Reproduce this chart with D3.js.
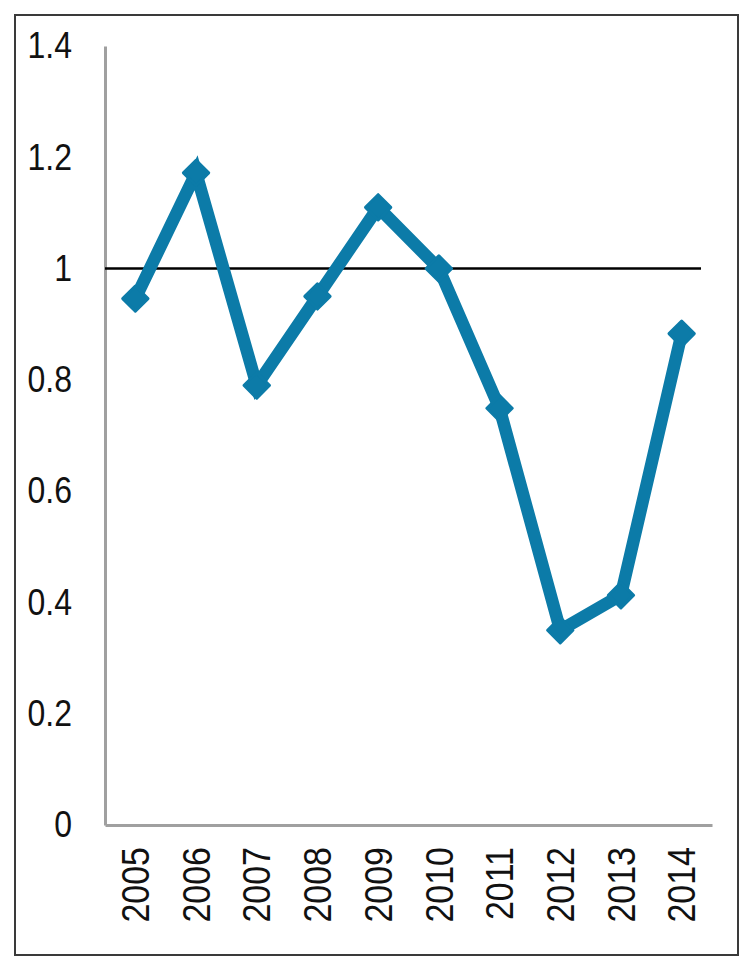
<!DOCTYPE html>
<html>
<head>
  <meta charset="utf-8">
  <title>Line chart 2005-2014</title>
  <script src="https://d3js.org/d3.v7.min.js"></script>
  <style>
    body { margin: 0; background: #fff; }
    svg { display: block; font-family: "Liberation Sans", Arial, sans-serif; }
  </style>
</head>
<body>
<div id="chart"></div>
<script>
  // data
  const years = ['2005', '2006', '2007', '2008', '2009', '2010', '2011', '2012', '2013', '2014'];
  const values = [0.946, 1.172, 0.79, 0.95, 1.11, 1.0, 0.749, 0.35, 0.413, 0.883];
  const yTicks = [0, 0.2, 0.4, 0.6, 0.8, 1, 1.2, 1.4];
  const refValue = 1;

  const W = 754, H = 972;
  const lineColor = '#0c7ba8';

  const svg = d3.select('#chart')
    .append('svg')
      .attr('width', W)
      .attr('height', H);

  // frame
  svg.append('rect')
    .attr('x', 15).attr('y', 15)
    .attr('width', 723).attr('height', 940)
    .attr('fill', 'none')
    .attr('stroke', '#3a3a3a')
    .attr('stroke-width', 2);

  const x = d3.scaleBand()
    .domain(years)
    .range([105, 712])
    .padding(0);

  const y = d3.scaleLinear()
    .domain([0, 1.4])
    .range([825, 46]);

  // y axis
  const yAxis = d3.axisLeft(y)
    .tickValues(yTicks)
    .tickFormat(d3.format('~g'))
    .tickSize(0)
    .tickSizeOuter(0)
    .tickPadding(33);

  const gy = svg.append('g')
    .attr('transform', `translate(${x.range()[0]},0)`)
    .call(yAxis);
  gy.select('.domain').attr('stroke', '#a0a0a0').attr('stroke-width', 3);
  // glyphs in the picture are a little taller than Liberation Sans
  gy.selectAll('text')
    .attr('font-size', '32px')
    .attr('fill', '#111')
    .attr('font-family', '"Liberation Sans", Arial, sans-serif')
    .attr('transform', 'scale(1,1.15)');

  // x axis
  const xAxis = d3.axisBottom(x)
    .tickSize(0)
    .tickSizeOuter(0)
    .tickPadding(0);

  const gx = svg.append('g')
    .attr('transform', `translate(0,${y(0)})`)
    .call(xAxis);
  gx.select('.domain').attr('stroke', '#a0a0a0').attr('stroke-width', 3);
  gx.selectAll('text')
    .attr('font-size', '34px')
    .attr('fill', '#111')
    .attr('font-family', '"Liberation Sans", Arial, sans-serif')
    .attr('text-anchor', 'end')
    .attr('dy', '0.35em')
    .attr('transform', 'translate(0,22) rotate(-90) scale(1,1.15)')
    .attr('y', 0);

  // reference line at 1
  svg.append('line')
    .attr('x1', x.range()[0])
    .attr('x2', 701)
    .attr('y1', y(refValue))
    .attr('y2', y(refValue))
    .attr('stroke', '#000')
    .attr('stroke-width', 2.5);

  const cx = (d, i) => x(years[i]) + x.bandwidth() / 2;

  // series line
  const line = d3.line()
    .x((d, i) => cx(d, i))
    .y(d => y(d));

  svg.append('path')
    .datum(values)
    .attr('d', line)
    .attr('fill', 'none')
    .attr('stroke', lineColor)
    .attr('stroke-width', 12.5)
    .attr('stroke-linejoin', 'miter');

  // diamond markers
  const sq = d3.symbol().type(d3.symbolSquare).size(320);
  svg.selectAll('.marker')
    .data(values)
    .enter()
    .append('path')
      .attr('class', 'marker')
      .attr('d', sq)
      .attr('transform', (d, i) => `translate(${cx(d, i)},${y(d)}) rotate(45)`)
      .attr('fill', lineColor)
      .attr('stroke', lineColor)
      .attr('stroke-width', 3)
      .attr('stroke-linejoin', 'round');
</script>
</body>
</html>
